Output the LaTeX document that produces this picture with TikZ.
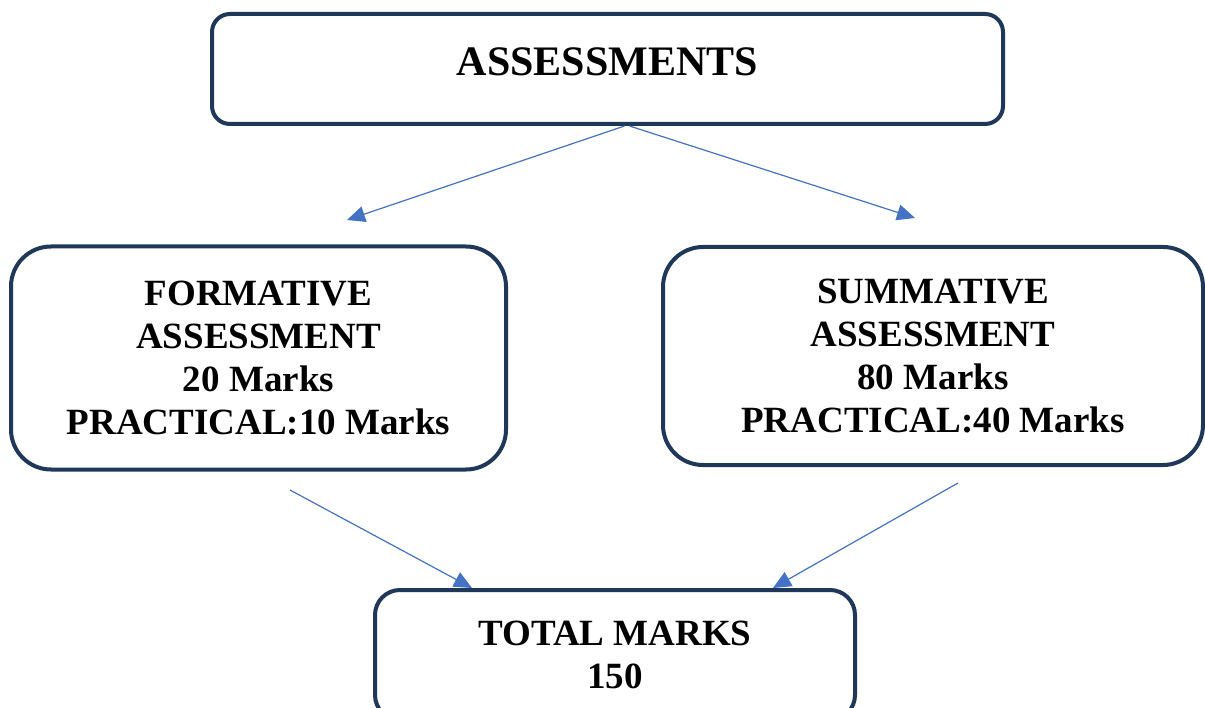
\documentclass[tikz,border=0pt]{standalone}
\usepackage{fontspec}
\setmainfont{Liberation Serif}
\usepackage{xcolor}
\usetikzlibrary{arrows.meta}

\definecolor{boxline}{RGB}{31,56,90}
\definecolor{arrowblue}{RGB}{68,114,196}

\tikzset{
    box/.style={draw=boxline, line width=4pt, fill=white, align=center,
        font=\bfseries\fontsize{37}{43}\selectfont, inner sep=0pt},
    arr/.style={draw=arrowblue, line width=1.2pt,
        -{Triangle[length=18pt,width=16pt]}}
}

\begin{document}
\begin{tikzpicture}[x=1pt,y=-1pt]
            \useasboundingbox (0,0) rectangle (1205,708);
            \fill[white] (0,0) rectangle (1205,708);

            % boxes
            \node[box, rounded corners=18pt, minimum width=791pt, minimum height=110pt,
                text depth=14pt, font=\bfseries\fontsize{42}{50}\selectfont]
                (assess) at (607.5,69) {ASSESSMENTS};
            \node[box, rounded corners=40pt, minimum width=495pt, minimum height=223pt]
                (formative) at (258.5,358) {FORMATIVE\\ASSESSMENT\\20 Marks\\PRACTICAL:10 Marks};
            \node[box, rounded corners=40pt, minimum width=540pt, minimum height=218pt]
                (summative) at (933,356) {SUMMATIVE\\ASSESSMENT\\80 Marks\\PRACTICAL:40 Marks};
            \node[box, rounded corners=25pt, minimum width=480pt, minimum height=130pt]
                (total) at (615,655) {TOTAL MARKS\\150};

            % free ends of the arrows
            \coordinate (ftip) at (347,220);
            \coordinate (stip) at (915,218);
            \coordinate (fout) at (290,490);
            \coordinate (sout) at (958,483);

            \draw[arr] ([xshift=17pt]assess.south) -- (ftip);
            \draw[arr] ([xshift=22pt]assess.south) -- (stip);
            \draw[arr] (fout) -- ([xshift=-143pt]total.north);
            \draw[arr] (sout) -- ([xshift=158pt]total.north);
        \end{tikzpicture}
\end{document}
